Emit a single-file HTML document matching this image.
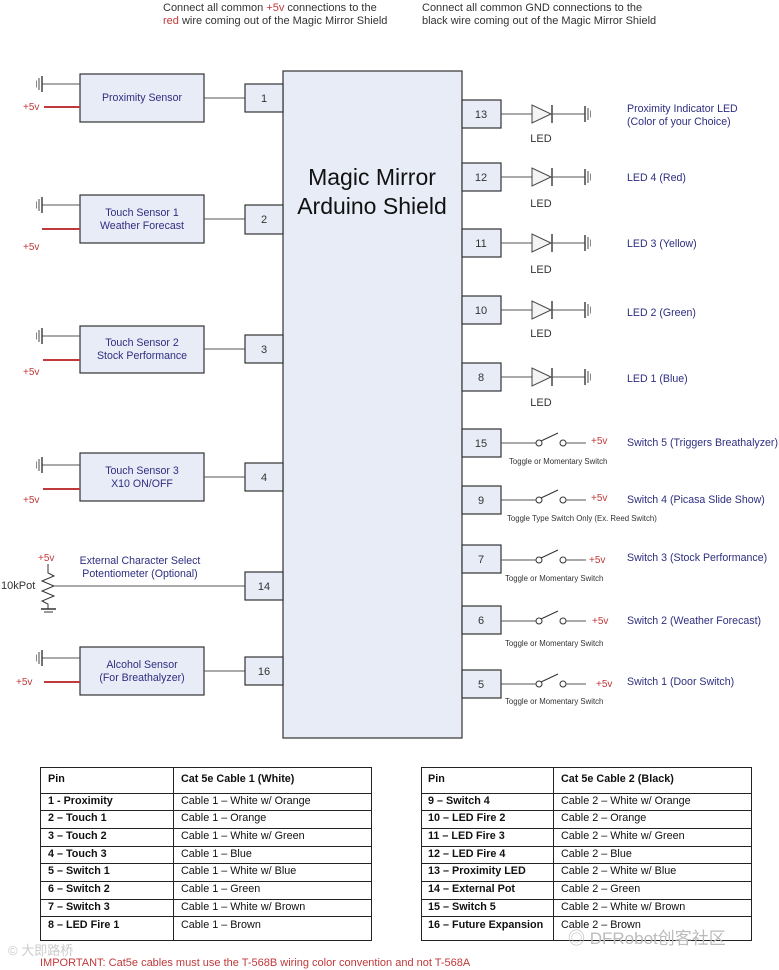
<!DOCTYPE html>
<html><head><meta charset="utf-8"><style>
html,body{margin:0;padding:0;background:#fff}
svg{display:block}
text{font-family:"Liberation Sans","Noto Sans CJK SC",sans-serif}
.b{fill:#2e2e80;font-size:10.6px}
.k{fill:#333;font-size:11px}
.r{fill:#c0393b;font-size:10px}
.s{fill:#333;font-size:7.8px}
.box{fill:#e8ecf7;stroke:#333;stroke-width:1.2}
.w{stroke:#555;stroke-width:1}
.red{stroke:#c0393b;stroke-width:2}
.t{font-size:10.8px;fill:#111}
.tb{font-size:10.8px;fill:#111;font-weight:bold}
</style></head><body>
<svg width="779" height="970" viewBox="0 0 779 970" xmlns="http://www.w3.org/2000/svg">
<defs>
<g id="gnd"><line x1="0" y1="-8" x2="0" y2="8" stroke="#444" stroke-width="1.5"/><line x1="-3" y1="-6" x2="-3" y2="6" stroke="#666" stroke-width="1.2"/><line x1="-5.5" y1="-3.5" x2="-5.5" y2="3.5" stroke="#888" stroke-width="1"/></g>
<g id="gndr"><line x1="0" y1="-8" x2="0" y2="8" stroke="#444" stroke-width="1.5"/><line x1="3" y1="-6" x2="3" y2="6" stroke="#666" stroke-width="1.2"/><line x1="5.5" y1="-3.5" x2="5.5" y2="3.5" stroke="#888" stroke-width="1"/></g>
<g id="led"><line x1="0" y1="0" x2="31" y2="0" class="w"/><polygon points="31,-9 31,9 50,0" fill="#f4f4f4" stroke="#444"/><line x1="51" y1="-9" x2="51" y2="9" stroke="#444" stroke-width="1.5"/><line x1="51" y1="0" x2="84" y2="0" class="w"/><use href="#gndr" x="84" y="0"/></g>
<g id="sw"><line x1="0" y1="0" x2="35" y2="0" class="w"/><circle cx="38" cy="0" r="3" fill="#fff" stroke="#333"/><line x1="40" y1="-2" x2="57" y2="-10" stroke="#333"/><circle cx="62" cy="0" r="3" fill="#fff" stroke="#333"/><line x1="65" y1="0" x2="85" y2="0" class="w"/></g>
</defs>

<text x="163" y="11" class="k" font-size="10.2">Connect all common <tspan fill="#c0393b">+5v</tspan> connections to the</text>
<text x="163" y="24" class="k" font-size="10.2"><tspan fill="#c0393b">red</tspan> wire coming out of the Magic Mirror Shield</text>
<text x="422" y="11" class="k" font-size="10.2">Connect all common GND connections to the</text>
<text x="422" y="24" class="k" font-size="10.2">black wire coming out of the Magic Mirror Shield</text>

<rect x="283" y="71" width="179" height="667" class="box"/>
<text x="372" y="185" text-anchor="middle" font-size="23" fill="#111">Magic Mirror</text>
<text x="372" y="214" text-anchor="middle" font-size="23" fill="#111">Arduino Shield</text>

<g>
<rect x="80" y="74" width="124" height="48" class="box"/><text x="142" y="101" text-anchor="middle" class="b">Proximity Sensor</text>
<line x1="42" y1="84" x2="80" y2="84" class="w"/><use href="#gnd" x="42" y="84"/>
<line x1="44" y1="107" x2="80" y2="107" class="red"/><text x="23" y="110" class="r">+5v</text>
<line x1="204" y1="98" x2="245" y2="98" class="w"/>
<rect x="245" y="84" width="38" height="28" class="box"/><text x="264" y="102" text-anchor="middle" class="k">1</text>

<rect x="80" y="195" width="124" height="48" class="box"/><text x="142" y="216" text-anchor="middle" class="b">Touch Sensor 1</text><text x="142" y="229" text-anchor="middle" class="b">Weather Forecast</text>
<line x1="42" y1="205" x2="80" y2="205" class="w"/><use href="#gnd" x="42" y="205"/>
<line x1="42" y1="229" x2="80" y2="229" class="red"/><text x="23" y="250" class="r">+5v</text>
<line x1="204" y1="219" x2="245" y2="219" class="w"/>
<rect x="245" y="205" width="38" height="29" class="box"/><text x="264" y="223" text-anchor="middle" class="k">2</text>

<rect x="80" y="326" width="124" height="47" class="box"/><text x="142" y="346" text-anchor="middle" class="b">Touch Sensor 2</text><text x="142" y="359" text-anchor="middle" class="b">Stock Performance</text>
<line x1="42" y1="336" x2="80" y2="336" class="w"/><use href="#gnd" x="42" y="336"/>
<line x1="43" y1="360" x2="80" y2="360" class="red"/><text x="23" y="375" class="r">+5v</text>
<line x1="204" y1="349" x2="245" y2="349" class="w"/>
<rect x="245" y="335" width="38" height="28" class="box"/><text x="264" y="353" text-anchor="middle" class="k">3</text>

<rect x="80" y="453" width="124" height="48" class="box"/><text x="142" y="474" text-anchor="middle" class="b">Touch Sensor 3</text><text x="142" y="487" text-anchor="middle" class="b">X10 ON/OFF</text>
<line x1="42" y1="465" x2="80" y2="465" class="w"/><use href="#gnd" x="42" y="465"/>
<line x1="43" y1="489" x2="80" y2="489" class="red"/><text x="23" y="503" class="r">+5v</text>
<line x1="204" y1="477" x2="245" y2="477" class="w"/>
<rect x="245" y="463" width="38" height="28" class="box"/><text x="264" y="481" text-anchor="middle" class="k">4</text>

<text x="38" y="561" class="r">+5v</text>
<polyline points="48,564 48,573 54,576 42,581 54,586 42,591 54,596 42,601 48,604 48,609" fill="none" stroke="#333"/>
<line x1="41" y1="609" x2="56" y2="609" stroke="#333" stroke-width="1.5"/><line x1="44" y1="612" x2="53" y2="612" stroke="#333"/>
<text x="1" y="589" class="k" font-size="10.5">10kPot</text>
<text x="140" y="564" text-anchor="middle" class="b">External Character Select</text>
<text x="140" y="577" text-anchor="middle" class="b">Potentiometer (Optional)</text>
<line x1="54" y1="586" x2="245" y2="586" class="w"/>
<rect x="245" y="572" width="38" height="28" class="box"/><text x="264" y="590" text-anchor="middle" class="k">14</text>

<rect x="80" y="647" width="124" height="48" class="box"/><text x="142" y="668" text-anchor="middle" class="b">Alcohol Sensor</text><text x="142" y="681" text-anchor="middle" class="b">(For Breathalyzer)</text>
<line x1="42" y1="658" x2="80" y2="658" class="w"/><use href="#gnd" x="42" y="658"/>
<line x1="44" y1="682" x2="80" y2="682" class="red"/><text x="16" y="685" class="r">+5v</text>
<line x1="204" y1="671" x2="245" y2="671" class="w"/>
<rect x="245" y="657" width="38" height="28" class="box"/><text x="264" y="675" text-anchor="middle" class="k">16</text>
</g>

<g>
<rect x="462" y="100" width="39" height="28" class="box"/><text x="481" y="118" text-anchor="middle" class="k">13</text>
<use href="#led" x="501" y="114"/><text x="541" y="142" text-anchor="middle" class="k">LED</text>
<text x="627" y="112" class="b">Proximity Indicator LED</text><text x="627" y="125" class="b">(Color of your Choice)</text>

<rect x="462" y="163" width="39" height="28" class="box"/><text x="481" y="181" text-anchor="middle" class="k">12</text>
<use href="#led" x="501" y="177"/><text x="541" y="207" text-anchor="middle" class="k">LED</text>
<text x="627" y="181" class="b">LED 4 (Red)</text>

<rect x="462" y="229" width="39" height="28" class="box"/><text x="481" y="247" text-anchor="middle" class="k">11</text>
<use href="#led" x="501" y="243"/><text x="541" y="273" text-anchor="middle" class="k">LED</text>
<text x="627" y="247" class="b">LED 3 (Yellow)</text>

<rect x="462" y="296" width="39" height="28" class="box"/><text x="481" y="314" text-anchor="middle" class="k">10</text>
<use href="#led" x="501" y="310"/><text x="541" y="337" text-anchor="middle" class="k">LED</text>
<text x="627" y="316" class="b">LED 2 (Green)</text>

<rect x="462" y="363" width="39" height="28" class="box"/><text x="481" y="381" text-anchor="middle" class="k">8</text>
<use href="#led" x="501" y="377"/><text x="541" y="406" text-anchor="middle" class="k">LED</text>
<text x="627" y="382" class="b">LED 1 (Blue)</text>
</g>

<g>
<rect x="462" y="429" width="39" height="28" class="box"/><text x="481" y="447" text-anchor="middle" class="k">15</text>
<use href="#sw" x="501" y="443"/><text x="591" y="444" class="r">+5v</text>
<text x="509" y="464" class="s">Toggle or Momentary Switch</text>
<text x="627" y="446" class="b" textLength="151" lengthAdjust="spacingAndGlyphs">Switch 5 (Triggers Breathalyzer)</text>

<rect x="462" y="486" width="39" height="28" class="box"/><text x="481" y="504" text-anchor="middle" class="k">9</text>
<use href="#sw" x="501" y="500"/><text x="591" y="501" class="r">+5v</text>
<text x="507" y="521" class="s">Toggle Type Switch Only (Ex. Reed Switch)</text>
<text x="627" y="503" class="b">Switch 4 (Picasa Slide Show)</text>

<rect x="462" y="545" width="39" height="28" class="box"/><text x="481" y="563" text-anchor="middle" class="k">7</text>
<use href="#sw" x="501" y="560"/><text x="589" y="563" class="r">+5v</text>
<text x="505" y="581" class="s">Toggle or Momentary Switch</text>
<text x="627" y="561" class="b">Switch 3 (Stock Performance)</text>

<rect x="462" y="606" width="39" height="28" class="box"/><text x="481" y="624" text-anchor="middle" class="k">6</text>
<use href="#sw" x="501" y="621"/><text x="592" y="624" class="r">+5v</text>
<text x="505" y="646" class="s">Toggle or Momentary Switch</text>
<text x="627" y="624" class="b">Switch 2 (Weather Forecast)</text>

<rect x="462" y="670" width="39" height="28" class="box"/><text x="481" y="688" text-anchor="middle" class="k">5</text>
<use href="#sw" x="501" y="684"/><text x="596" y="687" class="r">+5v</text>
<text x="505" y="704" class="s">Toggle or Momentary Switch</text>
<text x="627" y="685" class="b">Switch 1 (Door Switch)</text>
</g>

<g stroke="#222" stroke-width="1" fill="none">
<rect x="40.5" y="767.5" width="331" height="173"/>
<line x1="173.5" y1="767" x2="173.5" y2="941"/>
<line x1="40" y1="793.5" x2="372" y2="793.5"/>
<line x1="40" y1="810.5" x2="372" y2="810.5"/><line x1="40" y1="828.5" x2="372" y2="828.5"/><line x1="40" y1="846.5" x2="372" y2="846.5"/><line x1="40" y1="863.5" x2="372" y2="863.5"/><line x1="40" y1="881.5" x2="372" y2="881.5"/><line x1="40" y1="899.5" x2="372" y2="899.5"/><line x1="40" y1="916.5" x2="372" y2="916.5"/>
<rect x="421.5" y="767.5" width="330" height="173"/>
<line x1="553.5" y1="767" x2="553.5" y2="941"/>
<line x1="421" y1="793.5" x2="752" y2="793.5"/>
<line x1="421" y1="810.5" x2="752" y2="810.5"/><line x1="421" y1="828.5" x2="752" y2="828.5"/><line x1="421" y1="846.5" x2="752" y2="846.5"/><line x1="421" y1="863.5" x2="752" y2="863.5"/><line x1="421" y1="881.5" x2="752" y2="881.5"/><line x1="421" y1="899.5" x2="752" y2="899.5"/><line x1="421" y1="916.5" x2="752" y2="916.5"/>
</g>
<g>
<text x="48" y="782" class="tb">Pin</text><text x="181" y="782" class="tb">Cat 5e Cable 1 (White)</text>
<text x="48" y="804" class="tb">1 - Proximity</text><text x="181" y="804" class="t">Cable 1 – White w/ Orange</text>
<text x="48" y="821" class="tb">2 – Touch 1</text><text x="181" y="821" class="t">Cable 1 – Orange</text>
<text x="48" y="839" class="tb">3 – Touch 2</text><text x="181" y="839" class="t">Cable 1 – White w/ Green</text>
<text x="48" y="857" class="tb">4 – Touch 3</text><text x="181" y="857" class="t">Cable 1 – Blue</text>
<text x="48" y="874" class="tb">5 – Switch 1</text><text x="181" y="874" class="t">Cable 1 – White w/ Blue</text>
<text x="48" y="892" class="tb">6 – Switch 2</text><text x="181" y="892" class="t">Cable 1 – Green</text>
<text x="48" y="910" class="tb">7 – Switch 3</text><text x="181" y="910" class="t">Cable 1 – White w/ Brown</text>
<text x="48" y="928" class="tb">8 – LED Fire 1</text><text x="181" y="928" class="t">Cable 1 – Brown</text>

<text x="428" y="782" class="tb">Pin</text><text x="561" y="782" class="tb">Cat 5e Cable 2 (Black)</text>
<text x="428" y="804" class="tb">9 – Switch 4</text><text x="561" y="804" class="t">Cable 2 – White w/ Orange</text>
<text x="428" y="821" class="tb">10 – LED Fire 2</text><text x="561" y="821" class="t">Cable 2 – Orange</text>
<text x="428" y="839" class="tb">11 – LED Fire 3</text><text x="561" y="839" class="t">Cable 2 – White w/ Green</text>
<text x="428" y="857" class="tb">12 – LED Fire 4</text><text x="561" y="857" class="t">Cable 2 – Blue</text>
<text x="428" y="874" class="tb">13 – Proximity LED</text><text x="561" y="874" class="t">Cable 2 – White w/ Blue</text>
<text x="428" y="892" class="tb">14 – External Pot</text><text x="561" y="892" class="t">Cable 2 – Green</text>
<text x="428" y="910" class="tb">15 – Switch 5</text><text x="561" y="910" class="t">Cable 2 – White w/ Brown</text>
<text x="428" y="928" class="tb">16 – Future Expansion</text><text x="561" y="928" class="t">Cable 2 – Brown</text>
</g>
<text x="40" y="966" fill="#c0393b" font-size="11">IMPORTANT: Cat5e cables must use the T-568B wiring color convention and not T-568A</text>
<text x="8" y="955" fill="#ccc" font-size="13">© 大即路桥</text>
<text x="568" y="944" fill="#bbb" font-size="17">◎ DFRobot创客社区</text>
</svg>
</body></html>
